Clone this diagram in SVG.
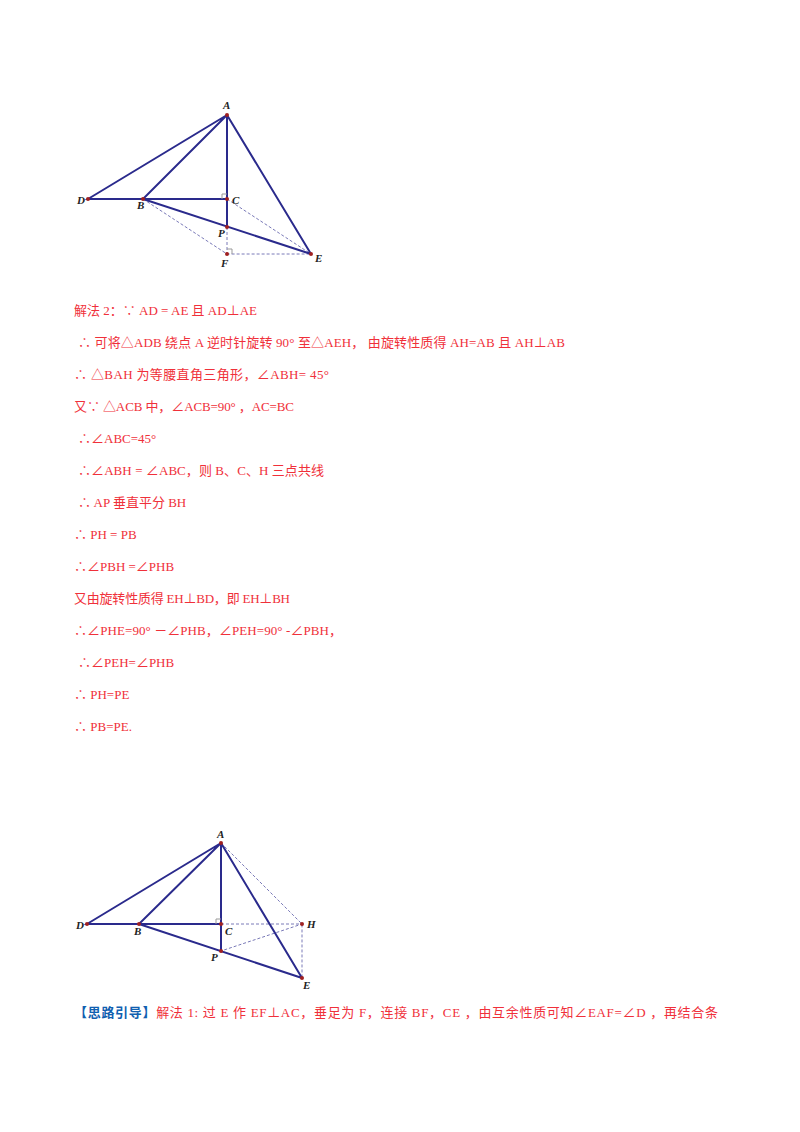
<svg xmlns="http://www.w3.org/2000/svg" width="800" height="1132" viewBox="0 0 800 1132">
<style>
.s{stroke:#2a2a8c;stroke-width:2;fill:none}
.d{stroke:#7a7ab8;stroke-width:1;stroke-dasharray:3,2;fill:none}
.p{fill:#a02020}
.l{font-family:"Liberation Serif",serif;font-style:italic;font-weight:bold;font-size:11px;fill:#222}
.t{font-family:"Liberation Serif","Noto Sans CJK SC",serif;font-size:13px;fill:#f0303a}
.b{font-family:"Noto Sans CJK SC",sans-serif;font-size:13px;font-weight:bold;fill:#1060b0}
</style>
<rect width="800" height="1132" fill="#fff"/>
<g id="fig1">
<g id="connectors1">
<path class="d" d="M143,199 L227,254 L311,254 M227,199 L311,254 M227,227 L227,254"/>
<path class="s" d="M88,199 L227,115 L143,199 Z M143,199 L227,199 M227,115 L227,227 M227,115 L311,254 M143,199 L311,254"/>
<path d="M222,194 h5 M222,194 v5 M227,249 h5 v5" stroke="#999" fill="none"/>
</g>
<g id="pts1" class="p"><circle cx="227" cy="115" r="2"/><circle cx="88" cy="199" r="2"/><circle cx="143" cy="199" r="2"/><circle cx="227" cy="199" r="2"/><circle cx="227" cy="227" r="2"/><circle cx="227" cy="254" r="2"/><circle cx="311" cy="254" r="2"/></g>
<g id="labels1" class="l"><text x="223" y="109">A</text><text x="77" y="204">D</text><text x="137" y="209">B</text><text x="232" y="204">C</text><text x="218" y="237">P</text><text x="221" y="267">F</text><text x="315" y="262">E</text></g>
</g>
<g id="text" class="t">
<text x="74" y="315" textLength="183">解法 2：∵  AD = AE 且 AD⊥AE</text>
<text x="78" y="347" textLength="487">∴  可将△ADB 绕点 A 逆时针旋转 90° 至△AEH，  由旋转性质得 AH=AB 且 AH⊥AB</text>
<text x="74" y="379" textLength="255">∴ △BAH 为等腰直角三角形，∠ABH= 45°</text>
<text x="74" y="411" textLength="220">又∵ △ACB 中，∠ACB=90° ，AC=BC</text>
<text x="78" y="443">∴∠ABC=45°</text>
<text x="78" y="475" textLength="246">∴∠ABH = ∠ABC，则 B、C、H 三点共线</text>
<text x="78" y="507">∴ AP 垂直平分 BH</text>
<text x="74" y="539">∴ PH = PB</text>
<text x="74" y="571">∴∠PBH =∠PHB</text>
<text x="74" y="603" textLength="216">又由旋转性质得 EH⊥BD，即 EH⊥BH</text>
<text x="74" y="635" textLength="268">∴∠PHE=90° －∠PHB，∠PEH=90° -∠PBH，</text>
<text x="78" y="667">∴∠PEH=∠PHB</text>
<text x="74" y="699">∴ PH=PE</text>
<text x="74" y="731">∴ PB=PE.</text>
<text x="74" y="1017" textLength="644"><tspan class="b">【思路引导】</tspan>解法 1:  过 E 作 EF⊥AC，垂足为 F，连接 BF，CE ，由互余性质可知∠EAF=∠D ，再结合条</text>
</g>
<g id="fig2">
<g id="connectors2">
<path class="d" d="M221,843 L302,924 L302,978 M221,924 L302,924 L221,951"/>
<path class="s" d="M87,924 L221,843 L139,924 Z M139,924 L221,924 M221,843 L221,951 M221,843 L302,978 M139,924 L302,978"/>
<path d="M216,919 h5 M216,919 v5" stroke="#999" fill="none"/>
</g>
<g id="pts2" class="p"><circle cx="221" cy="843" r="2"/><circle cx="87" cy="924" r="2"/><circle cx="139" cy="924" r="2"/><circle cx="221" cy="924" r="2"/><circle cx="221" cy="951" r="2"/><circle cx="302" cy="924" r="2"/><circle cx="302" cy="978" r="2"/></g>
<g id="labels2" class="l"><text x="217" y="838">A</text><text x="76" y="929">D</text><text x="134" y="935">B</text><text x="225" y="935">C</text><text x="211" y="961">P</text><text x="307" y="928">H</text><text x="303" y="989">E</text></g>
</g>
</svg>
